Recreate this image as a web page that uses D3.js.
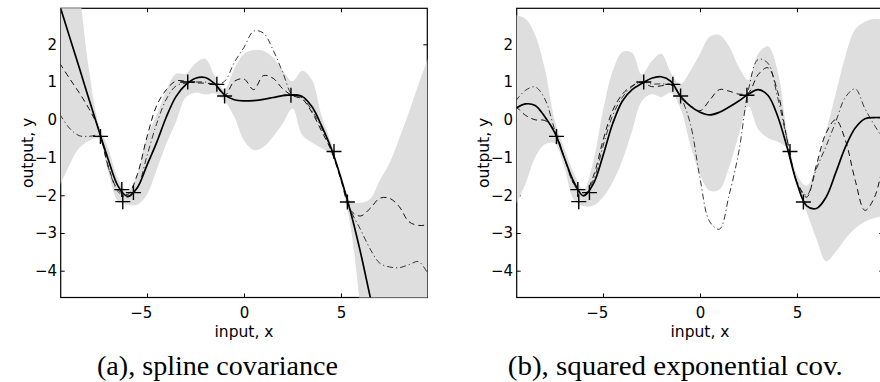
<!DOCTYPE html>
<html>
<head>
<meta charset="utf-8">
<script src="https://cdn.jsdelivr.net/npm/d3@7"></script>
<style>
  body { margin: 0; background: #fff; }
  svg { display: block; }
  .tick text { font-family: "DejaVu Sans", sans-serif; font-size: 15px; fill: #000; }
  .lbl { font-family: "DejaVu Sans", sans-serif; font-size: 15.5px; fill: #000; }
  .cap { font-family: "Liberation Serif", serif; font-size: 27px; fill: #000; }
</style>
</head>
<body>
<div id="chart"></div>
<script>
// x grid shared by every curve (step 0.5)
const xGrid = [-9.5, -9, -8.5, -8, -7.5, -7, -6.5, -6, -5.5, -5, -4.5, -4, -3.5, -3, -2.5, -2, -1.5, -1, -0.5, 0,
  0.5, 1, 1.5, 2, 2.5, 3, 3.5, 4, 4.5, 5, 5.5, 6, 6.5, 7, 7.5, 8, 8.5, 9, 9.5];

// training points (the + markers)
const trainX = [-7.4, -6.3, -5.7, -6.25, -2.9, -1.4, -1.0, 2.42, 4.64, 5.33];
const trainY = [-0.44, -1.85, -1.93, -2.17, 1.0, 0.94, 0.63, 0.65, -0.84, -2.18];

// (a) spline covariance
const splineMean = [3.03, 2.21, 1.39, 0.56, -0.26, -1.05, -1.75, -2.03, -1.8, -1.2, -0.6, 0.08, 0.62, 0.93, 1.1, 1.12, 0.95, 0.66, 0.53, 0.5,
  0.51, 0.54, 0.59, 0.64, 0.66, 0.62, 0.35, -0.16, -0.76, -1.55, -2.45, -3.5, -4.68, -5.8, -6.9, -8.0, -9.1, -10.2, -11.3];
const splineUpper = [7.8, 5.6, 3.5, 1.35, -0.1, -0.75, -1.55, -1.9, -1.45, -0.45, 0.12, 0.78, 1.22, 1.22, 1.5, 1.62, 1.15, 0.8, 1.35, 1.75,
  1.85, 1.83, 1.65, 1.3, 1.02, 1.3, 1.06, 0.1, -0.62, -1.45, -2.15, -2.2, -2.1, -1.6, -1.15, -0.5, 0.2, 0.95, 1.65];
const splineLower = [-1.75, -1.2, -0.75, -0.56, -0.5, -1.38, -2.15, -2.25, -2.25, -1.98, -1.32, -0.63, -0.05, 0.6, 0.72, 0.67, 0.7, 0.5, 0.08, -0.55,
  -0.8, -0.72, -0.45, -0.1, 0.3, -0.4, -0.6, -0.75, -0.92, -1.65, -2.85, -5.0, -7.2, -10, -13, -16, -19, -22, -26];
const splineSampleA = [1.5, 1.1, 0.72, 0.3, -0.22, -1.23, -1.85, -1.98, -1.45, -0.45, 0.38, 0.8, 1.03, 1.02, 0.98, 0.97, 0.93, 0.64, 1.02, 1.08,
  0.8, 1.17, 1.1, 0.82, 0.64, 0.55, 0.2, -0.3, -0.82, -1.6, -2.4, -2.55, -2.35, -2.08, -2.08, -2.3, -2.7, -2.8, -2.78];
const splineSampleB = [0.15, -0.22, -0.42, -0.44, -0.43, -1.25, -1.9, -2.05, -1.8, -0.95, -0.1, 0.55, 0.9, 0.97, 1.0, 1.0, 0.93, 1.02, 1.52, 1.92,
  2.35, 2.3, 1.85, 1.25, 0.65, 0.58, 0.25, -0.22, -0.78, -1.55, -2.4, -2.9, -3.42, -3.8, -3.9, -3.92, -3.84, -3.76, -4.1];

// (b) squared exponential covariance
const seMean = [0.3, 0.42, 0.38, 0.08, -0.33, -1.0, -1.65, -2.02, -1.7, -0.95, -0.1, 0.5, 0.8, 0.96, 1.1, 1.14, 1.02, 0.62, 0.36, 0.2,
  0.13, 0.2, 0.34, 0.5, 0.68, 0.8, 0.65, 0.1, -0.75, -1.68, -2.28, -2.35, -2.05, -1.4, -0.72, -0.22, 0.03, 0.06, 0.05];
const seUpper = [2.78, 2.68, 2.25, 1.35, 0.0, -0.75, -1.42, -1.85, -1.1, 0.25, 1.3, 1.8, 1.78, 1.2, 1.55, 1.75, 1.25, 0.95, 1.3, 1.75,
  2.2, 2.25, 1.95, 1.4, 1.05, 1.75, 1.95, 1.3, -0.35, -1.45, -1.75, -1.2, -0.3, 0.7, 1.7, 2.4, 2.6, 2.68, 2.65];
const seLower = [-2.25, -1.7, -1.0, -0.65, -0.62, -1.25, -2.12, -2.29, -2.27, -2.05, -1.65, -1.07, -0.3, 0.5, 0.68, 0.6, 0.72, 0.3, -0.67, -1.45,
  -1.88, -1.85, -1.25, -0.4, 0.35, -0.25, -0.48, -0.58, -0.77, -1.75, -2.45, -3.15, -3.75, -3.5, -3.15, -2.88, -2.7, -2.6, -2.55];
const seSampleA = [0.36, 0.12, 0.0, -0.02, -0.28, -1.0, -1.7, -2.0, -1.5, -0.55, 0.25, 0.68, 0.9, 1.0, 0.88, 0.9, 0.93, 0.62, 0.38, 0.24,
  0.52, 0.8, 0.76, 0.68, 0.72, 1.2, 1.38, 0.75, -0.55, -1.65, -2.05, -1.2, -0.35, 0.0, -0.55, -1.6, -2.4, -2.05, -1.0];
const seSampleB = [0.5, 0.78, 0.87, 0.55, -0.25, -1.0, -1.72, -2.0, -1.6, -0.7, 0.12, 0.6, 0.88, 1.0, 0.95, 0.95, 0.93, 0.6, -0.1, -1.55,
  -2.7, -2.9, -2.0, -0.85, 0.8, 1.6, 1.5, 0.6, -0.55, -1.65, -2.0, -1.3, -0.7, -0.05, 0.6, 0.82, 0.3, -0.15, -0.55];

const xTicks = [-5, 0, 5];
const yTicks = [-4, -3, -2, -1, 0, 1, 2];
const captions = ["(a), spline covariance", "(b), squared exponential cov."];

const W = 880, H = 382;
const svg = d3.select("#chart").append("svg").attr("width", W).attr("height", H);
svg.append("rect").attr("width", W).attr("height", H).attr("fill", "#fff");

function drawPanel(id, left, mean, upper, lower, sA, sB, caption, capX, capLen){
    let top = 8.3, bottom = 297.5, width = 366.6;
    let x = d3.scaleLinear().domain([-9.45, 9.45]).range([left, left + width]);
    let y = d3.scaleLinear().domain([-4.71, 2.955]).range([bottom, top]);
    let g = svg.append("g");

    // box and ticks (drawn under the data, like matlab)
    g.append("rect").attr("x", left).attr("y", top).attr("width", width).attr("height", bottom - top)
        .attr("fill", "none").attr("stroke", "#000").attr("stroke-width", 1.2);

    let fmt = d3.format("d");
    let bx = g.append("g").attr("transform", "translate(0," + bottom + ")")
        .call(d3.axisBottom(x).tickValues(xTicks).tickSizeInner(-4).tickSizeOuter(0).tickPadding(10.3).tickFormat(fmt));
    bx.selectAll("text").attr("dx", d => d < 0 ? "-0.42em" : 0);
    g.append("g").attr("transform", "translate(0," + top + ")")
        .call(d3.axisTop(x).tickValues(xTicks).tickSizeInner(-4).tickSizeOuter(0).tickFormat(""));
    g.append("g").attr("transform", "translate(" + left + ",0)")
        .call(d3.axisLeft(y).tickValues(yTicks).tickSizeInner(-4).tickSizeOuter(0).tickPadding(3.7).tickFormat(fmt));
    g.append("g").attr("transform", "translate(" + (left + width) + ",0)")
        .call(d3.axisRight(y).tickValues(yTicks).tickSizeInner(-4).tickSizeOuter(0).tickFormat(""));
    g.selectAll(".domain").remove();
    g.selectAll(".tick line").attr("stroke", "#000").attr("stroke-width", 1);

    g.append("text").attr("class", "lbl").attr("x", x(0)).attr("y", 337)
        .attr("text-anchor", "middle").text("input, x");
    g.append("text").attr("class", "lbl")
        .attr("transform", "translate(" + (left - 27.5) + "," + ((top + bottom) / 2) + ") rotate(-90)")
        .attr("text-anchor", "middle").text("output, y");
    g.append("text").attr("class", "cap").attr("x", capX).attr("y", 375)
        .attr("text-anchor", "middle").attr("textLength", capLen).attr("lengthAdjust", "spacingAndGlyphs")
        .text(caption);

    svg.append("clipPath").attr("id", id).append("rect")
        .attr("x", left).attr("y", top).attr("width", width).attr("height", bottom - top);
    let plot = svg.append("g").attr("clip-path", "url(#" + id + ")");

    let curve = d3.curveCatmullRom.alpha(0.5);
    let area = d3.area().x((d, i) => x(xGrid[i])).y0((d, i) => y(lower[i])).y1(d => y(d)).curve(curve);
    let line = d3.line().x((d, i) => x(xGrid[i])).y(d => y(d)).curve(curve);

    plot.append("path").datum(upper).attr("d", area).attr("fill", "#dedede");
    plot.append("path").datum(sA).attr("d", line).attr("fill", "none")
        .attr("stroke", "#111").attr("stroke-width", 1).attr("stroke-dasharray", "6,4");
    plot.append("path").datum(sB).attr("d", line).attr("fill", "none")
        .attr("stroke", "#222").attr("stroke-width", 0.9).attr("stroke-dasharray", "6,3,1.2,3");
    plot.append("path").datum(mean).attr("d", line).attr("fill", "none")
        .attr("stroke", "#000").attr("stroke-width", 1.7);

    plot.selectAll(".mark").data(trainX).enter().append("path").attr("class", "mark")
        .attr("transform", (d, i) => "translate(" + x(d) + "," + y(trainY[i]) + ")")
        .attr("d", "M-7.5,0H7.5M0,-7.5V7.5").attr("stroke", "#000").attr("stroke-width", 1.4).attr("fill", "none");
}

drawPanel("clipA", 60.7, splineMean, splineUpper, splineLower, splineSampleA, splineSampleB, captions[0], 217.5, 241);
drawPanel("clipB", 516.7, seMean, seUpper, seLower, seSampleA, seSampleB, captions[1], 675.3, 335);
</script>
</body>
</html>
